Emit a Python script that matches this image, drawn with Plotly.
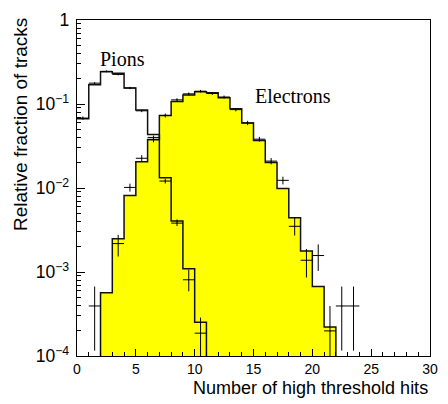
import plotly.graph_objects as go

# ---- data ----
# MC histograms: value of each unit-wide bin, bins start at the given low edge
pion_hist_start = 0
pion_hist = [0.0667, 0.1695, 0.242, 0.2316, 0.155, 0.0848, 0.0432, 0.01327, 0.00406, 0.00109, 0.000252]

elec_hist_start = 2
elec_hist = [5.65e-4, 2.49e-3, 8.13e-3, 0.0206, 0.0378, 0.0730, 0.1069, 0.1277, 0.1395, 0.1358,
             0.1189, 0.0875, 0.0595, 0.0368, 0.0201, 0.00984, 0.00442, 0.00178, 6.70e-4, 2.21e-4]

# data points (bin centres) with errors
pion_x = [0.5, 1.5, 2.5, 3.5, 4.5, 5.5, 6.5, 7.5, 8.5, 9.5, 10.5, 21.5]
pion_y = [0.068, 0.177, 0.245, 0.225, 0.155, 0.083, 0.040, 0.0121, 0.00382, 8.08e-4, 1.87e-4, 1.99e-4]
pion_err_up = [0.003, 0.005, 0.006, 0.006, 0.005, 0.003, 0.002, 0.0008, 0.0004, 0.00026, 0.0001, 0.000195]
pion_err_dn = [0.003, 0.005, 0.006, 0.006, 0.005, 0.003, 0.002, 0.0008, 0.0003, 0.00022, 0.00019, 0.0002]

elec_x = [1.5, 3.5, 4.5, 5.5, 6.5, 7.5, 8.5, 9.5, 10.5, 11.5, 12.5, 13.5, 14.5, 15.5, 16.5,
          17.5, 18.5, 19.5, 20.5, 22.5, 23.5]
elec_y = [3.94e-4, 2.18e-3, 0.01016, 0.0226, 0.0375, 0.073, 0.112, 0.132, 0.142, 0.1334,
          0.1211, 0.0857, 0.0595, 0.0381, 0.0209, 0.01234, 0.0035, 0.00138, 0.00157, 3.94e-4, 3.94e-4]
elec_err_up = [2.77e-4, 5.9e-4, 0.0011, 0.002, 0.0025, 0.004, 0.005, 0.005, 0.005, 0.005,
               0.005, 0.004, 0.0035, 0.0025, 0.0018, 0.0013, 0.00095, 0.0005, 0.00056, 2.77e-4, 2.77e-4]
elec_err_dn = [2.78e-4, 6.5e-4, 0.0011, 0.002, 0.0025, 0.004, 0.005, 0.005, 0.005, 0.005,
               0.005, 0.004, 0.0035, 0.0025, 0.0018, 0.0013, 0.00078, 0.00052, 0.00054, 2.78e-4, 2.78e-4]

x_title = "Number of high threshold hits"
y_title = "Relative fraction of tracks"
label_pions = "Pions"
label_electrons = "Electrons"

FLOOR = 1e-6  # below the visible axis range; used to close steps


def step_outline(start, values, close_left=True):
    xs, ys = [], []
    if close_left:
        xs.append(start)
        ys.append(FLOOR)
    for i, v in enumerate(values):
        xs += [start + i, start + i + 1]
        ys += [v, v]
    xs.append(start + len(values))
    ys.append(FLOOR)
    return xs, ys


ex, ey = step_outline(elec_hist_start, elec_hist)
px, py = step_outline(pion_hist_start, pion_hist, close_left=False)

fig = go.Figure()
fig.add_trace(go.Scatter(x=ex, y=ey, mode="lines", fill="toself", fillcolor="#ffff00",
                         line=dict(color="#111111", width=1.5), hoverinfo="skip"))
fig.add_trace(go.Scatter(x=px, y=py, mode="lines",
                         line=dict(color="#111111", width=1.5), hoverinfo="skip"))

for xs, ys, up, dn in [(pion_x, pion_y, pion_err_up, pion_err_dn),
                       (elec_x, elec_y, elec_err_up, elec_err_dn)]:
    fig.add_trace(go.Scatter(
        x=xs, y=ys, mode="markers", marker=dict(size=1, color="black"),
        error_x=dict(type="constant", value=0.5, width=0, thickness=1, color="black"),
        error_y=dict(type="data", array=up, arrayminus=dn, symmetric=False,
                     width=0, thickness=1, color="black"),
    ))

axis_font = dict(family="Liberation Sans, Arial", size=14, color="black")

fig.update_xaxes(range=[0, 30], dtick=5, tick0=0, ticks="inside", ticklen=7, tickwidth=1,
                 tickcolor="black", showline=True, linecolor="black", linewidth=1, mirror=True,
                 showgrid=False, zeroline=False, tickfont=axis_font,
                 minor=dict(dtick=1, ticks="inside", ticklen=4, tickcolor="black", showgrid=False))
fig.update_yaxes(type="log", range=[-4, 0], dtick=1, exponentformat="power", ticks="inside",
                 ticklen=8, tickwidth=1, tickcolor="black", showline=True, linecolor="black",
                 linewidth=1, mirror=True, showgrid=False, zeroline=False, tickfont=axis_font,
                 ticklabelstandoff=4,
                 minor=dict(dtick="D1", ticks="inside", ticklen=4, tickcolor="black", showgrid=False))

x_title_font = dict(family="Liberation Sans, Arial", size=18, color="black")
y_title_font = dict(family="Liberation Sans, Arial", size=19, color="black")
serif_font = dict(family="Liberation Serif, Times New Roman", size=20, color="black")

fig.add_annotation(text=x_title, xref="paper", yref="paper", x=1.0, y=-0.095,
                   xanchor="right", yanchor="middle", showarrow=False, font=x_title_font)
fig.add_annotation(text=y_title, xref="paper", yref="paper", x=-0.16, y=1.012,
                   xanchor="center", yanchor="top", textangle=-90, showarrow=False, font=y_title_font)
fig.add_annotation(text=label_pions, xref="x", yref="y", x=3.88, y=-0.47,
                   showarrow=False, font=serif_font)
fig.add_annotation(text=label_electrons, xref="x", yref="y", x=18.32, y=-0.91,
                   showarrow=False, font=serif_font)

fig.update_layout(width=448, height=404, margin=dict(l=77, r=15, t=10, b=48),
                  paper_bgcolor="white", plot_bgcolor="white", showlegend=False)

fig.write_html("out.html", config={"displayModeBar": False},
               post_script="document.body.style.margin='0px';")
